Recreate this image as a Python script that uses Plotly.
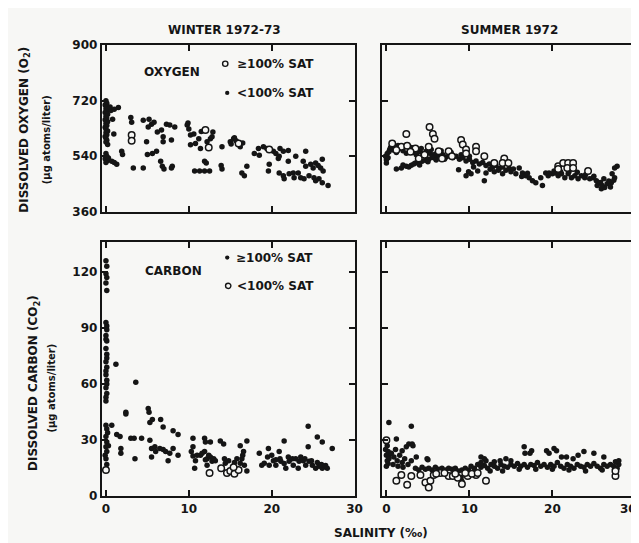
import plotly.graph_objects as go

# ---- data: (salinity, value) ----
# Winter 1972-73, dissolved oxygen
winter_o2_below = [
    (0.0, 720), (0.1, 712), (-0.1, 706), (0.2, 700), (0.0, 694), (0.1, 688), (-0.1, 682), (0.2, 676),
    (0.0, 670), (0.1, 664), (-0.1, 658), (0.2, 652), (0.0, 646), (0.1, 640), (-0.1, 634), (0.0, 628),
    (0.2, 622), (0.0, 616), (0.1, 610), (-0.1, 604), (0.0, 598), (0.1, 592), (0.0, 586), (0.2, 578),
    (0.0, 549), (0.1, 540), (-0.1, 532), (0.2, 526), (0.0, 520), (0.3, 534),
    (0.6, 688), (0.5, 700), (1.5, 698), (0.95, 612), (0.8, 660), (1.0, 692),
    (1.9, 556), (2.0, 546), (0.7, 524), (1.3, 514), (1.0, 520),
    (3.0, 666), (3.1, 650), (3.3, 502), (4.5, 502),
    (4.5, 657), (5.2, 660), (5.5, 644), (5.1, 635), (5.8, 650), (4.9, 587),
    (5.0, 546), (5.6, 549), (6.1, 556),
    (6.2, 619), (6.7, 625), (6.9, 603), (6.9, 587),
    (6.6, 524), (6.8, 508), (7.0, 499), (8.0, 508), (7.9, 502),
    (7.3, 644), (7.7, 641), (8.3, 635), (7.9, 593),
    (9.8, 641), (10.0, 628), (9.9, 648), (10.2, 609), (10.6, 612), (10.2, 577), (10.8, 581), (11.2, 597),
    (12.9, 619), (12.6, 597), (12.2, 587), (12.8, 603), (11.5, 620), (11.4, 565),
    (11.9, 524), (12.1, 518), (10.7, 492), (11.3, 492), (11.9, 492), (12.5, 492), (14.0, 499), (13.9, 510),
    (14.0, 571), (15.0, 587), (15.4, 597), (15.5, 600), (15.1, 580), (16.2, 571), (15.7, 590), (16.5, 583),
    (17.0, 508), (16.4, 486), (16.7, 477),
    (17.9, 549), (18.4, 565), (18.5, 543), (19.0, 571), (19.4, 565), (20.2, 556), (20.5, 549), (20.9, 540),
    (21.4, 556), (22.0, 559), (21.0, 565), (19.7, 514), (19.6, 492), (20.8, 533),
    (20.9, 486), (21.4, 477), (21.5, 467), (22.1, 483), (22.6, 486), (22.7, 470), (23.2, 486), (23.5, 470),
    (23.9, 467), (22.0, 524), (22.9, 540), (23.8, 524), (24.1, 556),
    (24.1, 508), (24.7, 514), (25.0, 502), (25.3, 518), (25.9, 502), (26.1, 530), (26.2, 492), (25.6, 510),
    (24.5, 477), (25.1, 470), (25.3, 461), (25.7, 467), (26.1, 454), (26.8, 445),
]
winter_o2_above = [(3.1, 609), (3.1, 590), (12.0, 625), (12.4, 568), (16.0, 581), (19.7, 562)]

# Summer 1972, dissolved oxygen
summer_o2_below = [
    (0.0, 518), (0.0, 529), (0.1, 549), (0.4, 562), (0.5, 568), (-0.1, 540), (0.2, 535),
    (0.3, 555), (0.8, 560), (1.2, 552), (1.6, 565), (2.0, 558), (2.4, 550), (2.8, 560), (3.2, 552),
    (3.6, 545), (4.0, 555), (4.4, 548), (4.8, 556), (5.2, 550), (5.6, 545), (6.0, 548), (6.4, 540),
    (6.8, 545), (7.2, 538), (7.6, 542), (8.0, 535), (8.4, 540),
    (1.0, 570), (1.4, 575), (2.2, 572), (3.0, 568), (4.2, 565), (5.4, 562), (6.6, 558), (7.8, 552),
    (1.2, 499), (1.8, 502), (2.4, 508), (3.0, 511), (3.5, 518), (4.3, 524), (5.1, 530), (5.9, 533), (6.7, 540),
    (2.0, 512), (2.7, 505), (3.3, 515), (3.9, 520), (4.7, 527), (5.5, 536), (6.3, 538), (7.0, 530),
    (4.0, 512), (5.0, 522), (6.0, 528), (8.7, 496), (9.6, 477), (10.2, 483), (9.9, 490), (11.8, 461),
    (8.8, 530), (9.2, 535), (9.6, 525), (10.0, 530), (10.4, 520), (10.8, 525), (11.2, 515), (11.6, 520),
    (12.0, 510), (12.4, 515), (12.8, 505), (13.2, 510), (13.6, 500), (14.0, 505), (14.4, 495), (14.8, 500),
    (11.0, 492), (12.0, 486), (13.0, 490), (14.0, 483), (12.5, 498), (13.5, 495), (10.5, 505), (9.0, 545), (10.0, 540),
    (15.3, 499), (16.0, 502), (16.4, 486), (16.8, 477), (17.2, 470), (17.6, 461), (18.0, 454), (15.6, 483),
    (16.3, 474), (15.0, 490), (17.0, 485),
    (18.8, 445), (18.6, 470), (19.2, 486), (19.5, 477), (20.0, 483), (20.4, 486), (20.7, 477), (21.1, 483),
    (21.5, 470), (21.9, 483), (22.3, 470), (22.7, 477), (23.1, 467), (23.5, 477), (23.9, 470), (24.5, 467),
    (24.9, 470), (25.3, 461), (19.6, 486), (20.2, 492), (21.0, 490), (22.0, 490), (23.0, 488), (24.0, 480), (25.0, 475),
    (25.4, 445), (25.9, 435), (26.3, 439), (26.6, 451), (27.1, 454), (27.5, 470), (27.2, 483), (27.5, 502),
    (27.8, 508), (26.2, 467), (26.8, 460), (27.4, 462), (25.8, 455), (26.0, 445), (27.0, 440),
]
summer_o2_above = [
    (0.7, 581), (1.8, 571), (2.5, 574), (3.5, 565), (5.1, 571), (6.3, 556), (7.5, 556), (9.0, 593),
    (9.2, 578), (9.6, 562), (9.6, 549), (10.8, 571), (10.8, 556), (11.8, 540), (13.0, 518), (14.2, 533),
    (14.0, 518), (3.9, 533), (6.7, 533), (7.9, 540), (2.4, 612), (5.2, 635), (5.6, 612), (5.8, 597),
    (14.7, 518), (20.7, 508), (21.3, 518), (21.9, 518), (22.5, 518), (20.7, 499), (21.8, 502), (22.5, 502),
    (24.3, 492), (4.6, 545), (2.9, 555), (1.2, 560),
]

# Winter 1972-73, dissolved carbon
winter_c_above = [
    (0.0, 126), (0.1, 123), (0.0, 119), (0.1, 117), (0.0, 114), (0.1, 110),
    (0.0, 93), (0.1, 91), (0.1, 89), (0.0, 86), (0.0, 84), (0.1, 83), (0.0, 79), (0.1, 76), (0.1, 74),
    (0.0, 72), (0.1, 69), (0.0, 67), (0.0, 65), (0.1, 62), (0.1, 60), (0.0, 58), (0.1, 55), (0.0, 53), (0.0, 51),
    (0.0, 38), (0.1, 36), (0.0, 32), (0.1, 29), (0.0, 26.5), (0.1, 24), (0.0, 20), (0.1, 17), (0.2, 34), (0.3, 27), (-0.1, 22),
    (1.2, 70.6), (0.7, 38), (1.3, 33), (1.7, 32), (1.8, 25.5), (1.8, 23), (2.4, 45), (2.4, 44), (3.0, 31),
    (3.4, 31), (3.6, 61), (3.5, 20), (4.3, 31),
    (5.1, 47), (5.2, 45), (5.3, 39.5), (5.6, 41), (6.6, 41), (6.9, 37), (5.3, 30), (5.5, 25.5), (5.5, 21),
    (5.9, 26.5), (6.0, 24), (6.5, 25.5), (6.9, 25), (7.2, 24), (7.7, 23), (8.1, 25.5), (8.7, 22), (7.5, 19),
    (8.1, 35), (8.7, 33),
    (10.5, 31), (10.5, 26.5), (10.3, 24), (10.5, 21.5), (10.7, 15), (10.8, 19),
    (11.9, 31), (12.0, 29), (12.6, 29), (11.4, 22), (11.9, 24), (12.2, 20), (12.6, 21), (12.8, 18.7), (13.0, 20), (12.2, 16.6),
    (13.8, 29.6), (14.2, 28), (14.3, 20), (14.4, 17.7),
    (16.2, 27), (17.0, 29.6), (16.6, 24), (16.4, 20), (16.2, 17.7), (16.7, 16.6), (17.0, 13.5),
    (18.5, 23), (18.8, 16.6), (19.6, 25.5), (19.1, 17.7), (19.7, 16.6), (20.2, 19), (20.5, 16.6), (20.9, 24),
    (21.1, 18.7), (21.5, 29.6), (21.7, 15), (22.1, 18.7), (22.6, 16.6), (22.9, 20), (23.2, 15), (23.3, 18.7),
    (23.8, 19), (24.1, 16.6), (24.5, 18.7), (24.9, 16.6), (25.3, 15), (25.7, 16), (26.1, 15), (26.7, 15),
    (24.4, 37.4), (24.4, 26.5), (25.5, 31.7), (26.1, 29), (27.3, 25.5),
    (19.5, 21), (20.0, 22), (21.0, 20), (22.0, 21), (22.5, 20), (23.5, 21), (24.0, 20), (24.8, 19),
    (25.5, 18), (26.0, 17), (26.5, 16.5), (20.5, 19.5), (21.5, 17.5),
    (11.0, 22), (11.6, 23), (12.4, 22), (13.2, 19), (14.8, 19), (15.5, 18), (15.8, 20), (16.5, 22), (12.0, 19.5),
]
winter_c_below = [(0.0, 14), (12.5, 12.5), (13.9, 15), (14.6, 12.5), (15.0, 13.5), (15.5, 12), (16.0, 14), (15.4, 15.5)]

# Summer 1972, dissolved carbon
summer_c_above = [
    (0.3, 39.5), (3.0, 37.4), (1.2, 30.6),
    (0.0, 29), (0.1, 27), (-0.1, 25), (0.2, 24), (0.0, 22), (0.3, 21), (0.1, 19), (0.2, 17.5), (0.0, 16),
    (0.4, 23), (0.3, 20), (2.4, 26.5), (2.7, 28), (3.1, 28), (1.9, 24.4), (3.2, 27),
    (0.6, 23), (0.9, 21), (1.3, 19), (1.6, 22), (1.9, 18), (2.2, 20), (0.8, 17), (1.4, 16), (2.0, 15.5),
    (1.1, 25), (2.6, 17), (3.6, 21), (4.9, 20), (5.0, 19.5), (3.0, 19),
    (3.5, 15), (3.9, 14), (4.3, 15.5), (4.7, 14.5), (5.1, 15), (5.5, 14), (5.9, 15.5), (6.3, 14.5), (6.7, 15),
    (7.1, 14), (7.5, 15), (7.9, 14.5), (8.3, 15), (8.7, 13.5), (9.1, 14), (9.5, 15), (9.9, 14), (9.1, 8), (9.0, 10),
    (10.2, 16), (10.6, 15), (11.0, 17), (11.4, 15.5), (11.8, 16.5), (12.2, 15), (12.6, 17), (13.0, 16),
    (13.4, 15), (13.8, 17), (14.2, 16), (14.6, 15.5), (15.0, 17), (15.4, 16), (15.8, 17.5), (16.2, 16),
    (16.6, 17), (17.0, 15.5), (17.4, 17), (17.8, 16.5), (18.2, 18), (18.6, 16), (19.0, 17), (19.4, 15.5),
    (19.8, 17), (20.2, 16), (20.6, 18), (21.0, 16), (21.4, 15), (21.8, 17), (22.2, 16), (22.6, 15),
    (23.0, 17), (23.4, 16), (23.8, 15.5), (24.2, 17), (24.6, 16), (25.0, 17.5), (25.4, 16), (25.8, 15),
    (26.2, 17), (26.6, 16), (27.0, 17), (27.4, 16), (27.8, 15), (28.0, 17), (27.6, 18.5), (28.0, 19),
    (12.0, 19), (13.0, 18.5), (15.0, 19), (14.0, 13.5), (12.5, 13.5), (16.0, 14.5), (18.0, 14.5),
    (20.0, 14.5), (22.0, 14), (24.0, 13.5), (26.0, 14), (27.5, 14.5),
    (11.4, 21), (11.8, 20), (13.7, 19), (11.4, 18), (14.4, 20),
    (16.6, 26.5), (16.7, 23), (17.3, 23), (17.5, 24.4), (19.3, 24.4), (19.6, 23), (20.2, 25.5), (20.5, 24.4),
    (21.1, 21), (21.7, 21), (22.5, 20), (23.1, 22), (23.8, 24), (25.0, 23), (26.2, 21),
]
summer_c_below = [
    (0.0, 30), (1.2, 8.3), (1.8, 11.4), (2.5, 6.2), (3.0, 10.9), (4.1, 11.4), (4.7, 7.3), (5.1, 4.7),
    (5.3, 8.3), (5.7, 11.4), (6.5, 12.5), (7.5, 10.9), (8.0, 10.9), (8.6, 9.9), (9.1, 6.5), (9.8, 10.9),
    (10.8, 11.4), (12.0, 8.3), (27.6, 10.9), (27.6, 13.5), (6.0, 12), (7.0, 12.5), (8.3, 12),
    (9.5, 12.5), (10.3, 12), (11.0, 12.5),
]

o2_ticks = [360, 540, 720, 900]
c_ticks = [0, 30, 60, 90, 120]
sal_ticks = [0, 10, 20, 30]

ink = "#151515"
paper = "#f7f7f5"
font_fam = "DejaVu Sans"
W, H = 639, 543


def px_x(px):
    return px / W


def px_y(py):
    return 1 - py / H


def filled(pts, xa, ya):
    x, y = zip(*pts)
    return go.Scatter(x=x, y=y, mode="markers", xaxis=xa, yaxis=ya, showlegend=False,
                      marker=dict(size=5.5, color=ink, line=dict(width=0)))


def hollow(pts, xa, ya):
    x, y = zip(*pts)
    return go.Scatter(x=x, y=y, mode="markers", xaxis=xa, yaxis=ya, showlegend=False,
                      marker=dict(size=6.5, color=paper, line=dict(width=1.5, color=ink)))


fig = go.Figure()
# oxygen: open = >=100% sat, filled = <100% sat
fig.add_trace(filled(winter_o2_below, "x", "y"))
fig.add_trace(hollow(winter_o2_above, "x", "y"))
fig.add_trace(filled(summer_o2_below, "x2", "y2"))
fig.add_trace(hollow(summer_o2_above, "x2", "y2"))
# carbon: filled = >=100% sat, open = <100% sat
fig.add_trace(filled(winter_c_above, "x3", "y3"))
fig.add_trace(hollow(winter_c_below, "x3", "y3"))
fig.add_trace(filled(summer_c_above, "x4", "y4"))
fig.add_trace(hollow(summer_c_below, "x4", "y4"))

tickfont = dict(family=font_fam, size=12, color=ink, weight="bold")
base = dict(showline=True, linecolor=ink, linewidth=2, mirror="ticks", ticks="inside",
            ticklen=6, tickwidth=1.5, tickcolor=ink, showgrid=False, zeroline=False,
            tickfont=tickfont, fixedrange=True)

left_dom = [px_x(95), px_x(351)]
right_dom = [px_x(379), px_x(637)]
top_dom = [px_y(202), px_y(31)]
bot_dom = [px_y(494), px_y(233)]

fig.update_layout(
    width=W, height=H,
    margin=dict(l=0, r=0, t=0, b=0),
    paper_bgcolor=paper, plot_bgcolor=paper,
    font=dict(family=font_fam, color=ink),
    xaxis=dict(base, domain=left_dom, range=[-0.5, 30], tickvals=sal_ticks, showticklabels=False, anchor="y"),
    yaxis=dict(base, domain=top_dom, range=[360, 900], tickvals=o2_ticks, anchor="x"),
    xaxis2=dict(base, domain=right_dom, range=[-0.5, 30.2], tickvals=sal_ticks, showticklabels=False, anchor="y2"),
    yaxis2=dict(base, domain=top_dom, range=[360, 900], tickvals=o2_ticks, showticklabels=False, anchor="x2"),
    xaxis3=dict(base, domain=left_dom, range=[-0.5, 30], tickvals=sal_ticks, anchor="y3"),
    yaxis3=dict(base, domain=bot_dom, range=[0, 136], tickvals=c_ticks, anchor="x3"),
    # the last "30" label sits on the page edge; drawn as an annotation below
    xaxis4=dict(base, domain=right_dom, range=[-0.5, 30.2], tickvals=sal_ticks,
                ticktext=["0", "10", "20", ""], anchor="y4"),
    yaxis4=dict(base, domain=bot_dom, range=[0, 136], tickvals=c_ticks, showticklabels=False, anchor="x4"),
)


def label(text, px, py, size=12, anchor="center", angle=0):
    fig.add_annotation(text=text, x=px_x(px), y=px_y(py), xref="paper", yref="paper",
                       xanchor=anchor, yanchor="middle", showarrow=False, textangle=angle,
                       font=dict(family=font_fam, size=size, color=ink, weight="bold"))


label("WINTER 1972-73", 219, 15)
label("SUMMER 1972", 508, 15)
label("OXYGEN", 166, 58)
label("≥100% SAT", 230, 50, anchor="left")
label("<100% SAT", 230, 80, anchor="left")
label("CARBON", 168, 263)
label("≥100% SAT", 229, 249, anchor="left")
label("<100% SAT", 230, 278, anchor="left")
label("SALINITY (‰)", 378, 532)
label("30", 639, 507, anchor="right")
label("DISSOLVED OXYGEN (O<sub>2</sub>)", 17, 118, angle=-90)
label("(µg atoms/liter)", 39, 128, size=10, angle=-90)
label("DISSOLVED CARBON (CO<sub>2</sub>)", 27, 378, angle=-90)
label("(µg atoms/liter)", 44, 383, size=10, angle=-90)


def key_dot(cx, cy, r, open_):
    fig.add_shape(type="circle", xref="paper", yref="paper",
                  x0=px_x(cx - r), x1=px_x(cx + r), y0=px_y(cy + r), y1=px_y(cy - r),
                  fillcolor=paper if open_ else ink, line=dict(color=ink, width=1.4 if open_ else 0))


key_dot(220, 50, 2.7, True)
key_dot(222, 80, 2.2, False)
key_dot(222, 249, 2.2, False)
key_dot(223, 278, 2.7, True)

fig.write_html("out.html")
